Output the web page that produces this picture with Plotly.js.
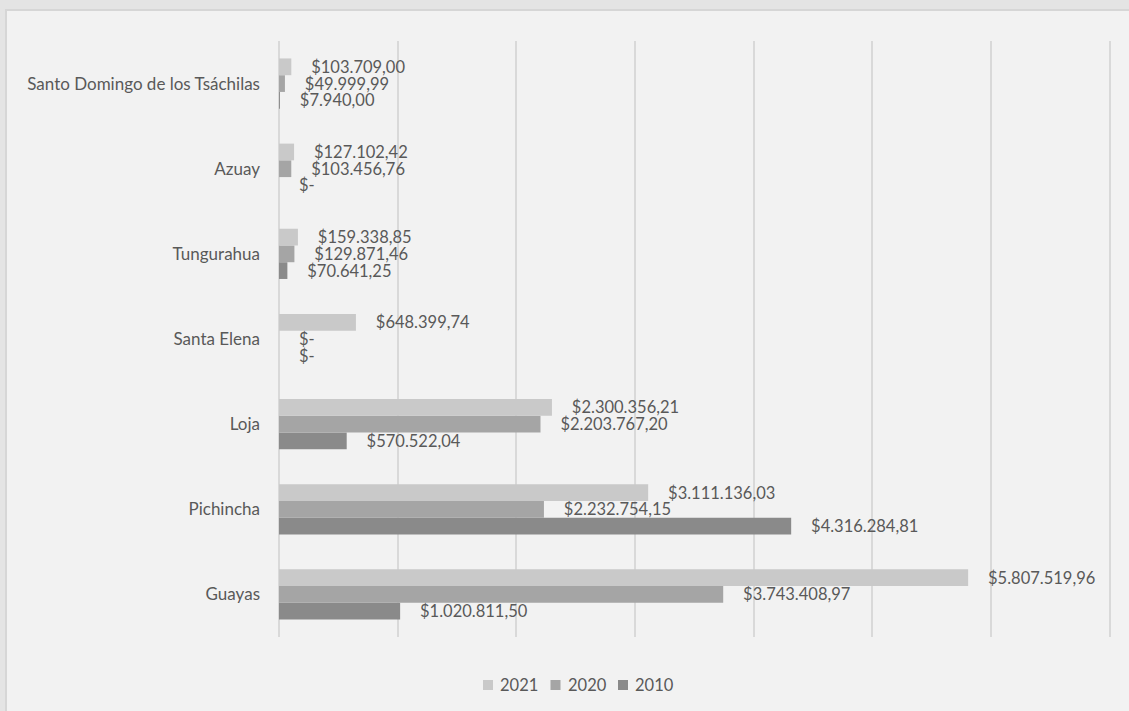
<!DOCTYPE html>
<html>
<head>
<meta charset="utf-8">
<script src="https://cdn.plot.ly/plotly-3.0.1.min.js"></script>
<style>
  html, body { margin: 0; padding: 0; background: #e4e4e4; width: 1129px; height: 711px; overflow: hidden; }
  #frame { position: absolute; left: 5px; top: 9px; width: 1124px; height: 702px; background: #d6d6d6; }
  #chart { position: absolute; left: 7px; top: 11px; width: 1122px; height: 700px; }
</style>
</head>
<body>
<div id="frame"></div>
<div id="chart"></div>
<script>
// Categories listed bottom-to-top (Plotly draws the first category at the bottom)
const provinces = ["Guayas", "Pichincha", "Loja", "Santa Elena", "Tungurahua", "Azuay", "Santo Domingo de los Tsáchilas"];
const values2021 = [5807519.96, 3111136.03, 2300356.21, 648399.74, 159338.85, 127102.42, 103709.00];
const values2020 = [3743408.97, 2232754.15, 2203767.20, 0, 129871.46, 103456.76, 49999.99];
const values2010 = [1020811.50, 4316284.81, 570522.04, 0, 70641.25, 0, 7940.00];
const seriesNames = ["2010", "2020", "2021"];
const seriesColors = ["#8a8a8a", "#a5a5a5", "#c9c9c9"];

function fmt(v) {
  if (v === 0) return "$-";
  const parts = v.toFixed(2).split(".");
  const intPart = parts[0].replace(/\B(?=(\d{3})+(?!\d))/g, ".");
  return "$" + intPart + "," + parts[1];
}
const pad = "\u00a0\u00a0\u00a0\u00a0";
const FONT = "Lato, 'Open Sans', sans-serif";

const seriesValues = [values2010, values2020, values2021];
const traces = seriesValues.map((vals, i) => ({
  type: "bar",
  orientation: "h",
  name: seriesNames[i],
  y: provinces,
  x: vals,
  marker: { color: seriesColors[i] },
  text: vals.map(v => pad + fmt(v)),
  textposition: "outside",
  constraintext: "none",
  cliponaxis: false,
  textfont: { family: FONT, size: 16.5, color: "#595959" },
  hoverinfo: "skip",
  showlegend: false
}));

// Plot area geometry (within the chart div)
const M = { l: 272, r: 17, t: 30, b: 74 };
const W = 1122, H = 700;
const plotW = W - M.l - M.r, plotH = H - M.t - M.b;
const toPaperX = px => (px - M.l) / plotW;
const toPaperY = py => (H - M.b - py) / plotH;

// Legend drawn in Excel style: 2021, 2020, 2010 left to right
const legendShapes = [];
const legendAnnots = [];
const legendStartX = 476, legendPitch = 67.5, legendCY = 674, sq = 10;
[2, 1, 0].forEach((idx, k) => {
  const x0 = legendStartX + k * legendPitch;
  legendShapes.push({
    type: "rect", xref: "paper", yref: "paper",
    x0: toPaperX(x0), x1: toPaperX(x0 + sq),
    y0: toPaperY(legendCY + sq / 2), y1: toPaperY(legendCY - sq / 2),
    fillcolor: seriesColors[idx], line: { width: 0 }
  });
  legendAnnots.push({
    xref: "paper", yref: "paper",
    x: toPaperX(x0 + sq + 5), y: toPaperY(legendCY),
    xanchor: "left", yanchor: "middle",
    text: seriesNames[idx], showarrow: false,
    font: { family: FONT, size: 16.5, color: "#595959" }
  });
});

const layout = {
  width: W,
  height: H,
  paper_bgcolor: "#f2f2f2",
  plot_bgcolor: "#f2f2f2",
  margin: M,
  barmode: "group",
  bargap: 0.41,
  bargroupgap: 0,
  showlegend: false,
  font: { family: FONT, size: 16.5, color: "#595959" },
  xaxis: {
    range: [0, 7020000],
    dtick: 1000000,
    showticklabels: false,
    showgrid: true,
    gridcolor: "#d9d9d9",
    gridwidth: 2,
    zeroline: true,
    zerolinecolor: "#d9d9d9",
    zerolinewidth: 2,
    fixedrange: true
  },
  yaxis: {
    type: "category",
    showgrid: false,
    zeroline: false,
    ticks: "",
    ticklen: 0,
    ticklabelstandoff: 18,
    tickfont: { family: FONT, size: 17, color: "#595959" },
    fixedrange: true
  },
  shapes: legendShapes,
  annotations: legendAnnots
};

Plotly.newPlot("chart", traces, layout, { displayModeBar: false, staticPlot: true });
</script>
</body>
</html>
